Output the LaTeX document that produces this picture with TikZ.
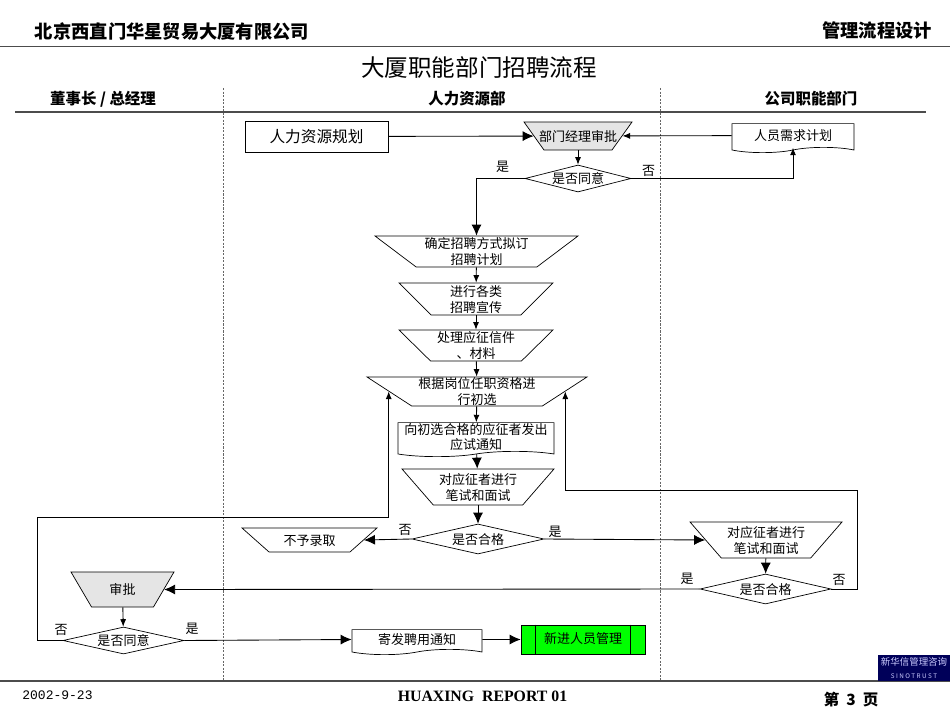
\documentclass[tikz,border=0pt]{standalone}
\usepackage{fontspec}
\setmainfont{Liberation Serif}
\setmonofont{Liberation Mono}
\newfontfamily\cjk{Noto Sans CJK SC}
\usetikzlibrary{arrows.meta,shapes.geometric,shapes.symbols}
\newcommand{\lbl}[1]{\smash{\makebox[0pt]{\raisebox{-2.9pt}{\begin{tabular}[c]{@{}c@{}}#1\end{tabular}}}}}
\tikzset{
	boxtext/.style={font=\cjk\fontsize{7.4}{9}\selectfont, align=center, inner sep=0pt},
	trapbox/.style n args={3}{boxtext, align=none, draw, trapezium, trapezium stretches body, shape border rotate=180, trapezium angle=#1, minimum width=#2, inner ysep=#3},
	docbox/.style={boxtext, draw, tape, tape bend top=none, tape bend height=3pt},
	decide/.style={boxtext, align=none, draw, diamond},
	tag/.style={boxtext},
	flow/.style={-{Latex[length=1.5mm,width=1.2mm]}, line width=0.5pt},
	bigflow/.style={-{Latex[length=2.2mm,width=2mm]}, line width=0.5pt},
	laneline/.style={dash pattern=on 1.2pt off 0.8pt, gray!80!black, line width=0.35pt},
	rule/.style={gray!60!black, line width=0.9pt},
	headtext/.style={font=\cjk\bfseries\fontsize{8.8}{10}\selectfont, inner sep=0pt}
}
\begin{document}
\begin{tikzpicture}[x=0.02cm,y=-0.02cm]
	\useasboundingbox (0,0) rectangle (950,713);

	% Page head
	\node[font=\cjk\bfseries\fontsize{10.4}{12}\selectfont, inner sep=0pt] (company) at (172,32) {北京西直门华星贸易大厦有限公司};
	\node[font=\cjk\bfseries\fontsize{10.4}{12}\selectfont, inner sep=0pt] (design) at (877,31) {管理流程设计};
	\coordinate (topl) at (0,46.5);
	\coordinate (topr) at (950,46.5);
	\draw[rule] (topl) -- (topr);
	\node[font=\cjk\fontsize{13.4}{15}\selectfont, inner sep=0pt] (title) at (479,68) {大厦职能部门招聘流程};

	% Lanes
	\node[headtext] (lanea) at (103,99) {董事长 / 总经理};
	\node[headtext] (laneb) at (467,99) {人力资源部};
	\node[headtext] (lanec) at (811,99) {公司职能部门};
	\coordinate (headl) at (15,112);
	\coordinate (headr) at (926,112);
	\draw[rule] (headl) -- (headr);
	\coordinate (splitat) at (223.5,88);
	\coordinate (splitab) at (223.5,681);
	\coordinate (splitbt) at (660,88);
	\coordinate (splitbb) at (660,681);
	\draw[laneline] (splitat) -- (splitab);
	\draw[laneline] (splitbt) -- (splitbb);

	% Approval at the top
	\node[boxtext, draw, minimum width=2.86cm, minimum height=0.62cm, font=\cjk\fontsize{8.9}{10}\selectfont] (plan) at (316.5,136.5) {人力资源规划};
	\node[trapbox={54.5}{2.16cm}{0.28cm}, fill=gray!20] (mgr) at (578,136) {\lbl{部门经理审批}};
	\node[docbox, minimum width=2.44cm, minimum height=0.58cm] (need) at (793,135.5) {\raisebox{1pt}{人员需求计划}};
	\node[decide, minimum width=2.12cm, minimum height=0.54cm] (agree) at (578,178.5) {\lbl{是否同意}};
	\draw[bigflow] (plan) -- (mgr);
	\draw[flow] (need) -- (mgr);
	\draw[flow] (mgr) -- (agree);

	% Recruiting steps
	\node[trapbox={37}{4.06cm}{0.31cm}] (method) at (476.5,251.5) {\lbl{确定招聘方式拟订\\招聘计划}};
	\node[trapbox={45}{3.08cm}{0.32cm}] (promo) at (476,299) {\lbl{进行各类\\招聘宣传}};
	\node[trapbox={44.5}{3.08cm}{0.31cm}] (mail) at (476,345.5) {\lbl{处理应征信件\\、材料}};
	\node[trapbox={33}{4.4cm}{0.29cm}] (screen) at (477,391.5) {\lbl{根据岗位任职资格进\\行初选}};
	\node[docbox, minimum width=3.12cm, minimum height=0.68cm] (notice) at (476,437) {向初选合格的应征者发出\\应试通知};
	\node[trapbox={49}{3.04cm}{0.36cm}] (exam) at (478,487) {\lbl{对应征者进行\\笔试和面试}};
	\node[decide, minimum width=2.64cm, minimum height=0.6cm] (pass) at (478,539) {\lbl{是否合格}};
	\draw[bigflow] (agree.west) -| (method.north);
	\draw[flow] (method) -- (promo);
	\draw[flow] (promo) -- (mail);
	\draw[flow] (mail) -- (screen);
	\draw[flow] (screen) -- (notice);
	\draw[bigflow] (notice) -- (exam);
	\draw[bigflow] (exam) -- (pass);
	\draw[flow] (agree.east) -| (need.south);

	% Results of the test
	\node[trapbox={41.6}{2.7cm}{0.24cm}] (reject) at (309.5,540) {\lbl{不予录取}};
	\node[trapbox={49}{3.04cm}{0.36cm}] (examb) at (766,540) {\lbl{对应征者进行\\笔试和面试}};
	\node[decide, minimum width=2.62cm, minimum height=0.6cm] (passb) at (765.5,589) {\lbl{是否合格}};
	\draw[bigflow] (pass.west) -- (reject.east);
	\draw[bigflow] (pass.east) -- (examb.west);
	\draw[bigflow] (examb) -- (passb);

	% Final approval
	\node[trapbox={59.6}{2.06cm}{0.35cm}, fill=gray!20] (appr) at (122.5,589.5) {\lbl{审批}};
	\node[decide, minimum width=2.42cm, minimum height=0.54cm] (agreeb) at (123.5,640.5) {\lbl{是否同意}};
	\node[docbox, minimum width=2.6cm, minimum height=0.5cm] (letter) at (417,639.5) {寄发聘用通知};
	\node[boxtext, draw, fill=green, minimum width=2.48cm, minimum height=0.58cm] (newhire) at (583,639.5) {\raisebox{1.5pt}{新进人员管理}};
	\draw ([xshift=0.3cm]newhire.north west) -- ([xshift=0.3cm]newhire.south west);
	\draw ([xshift=-0.3cm]newhire.north east) -- ([xshift=-0.3cm]newhire.south east);
	\draw[bigflow] (passb.west) -- (appr.east);
	\draw[flow] (appr) -- (agreeb);
	\draw[bigflow] (agreeb.east) -- (letter.west);
	\draw[bigflow] (letter) -- (newhire);

	% Loops back to the screening
	\coordinate (loopa) at (37,517);
	\coordinate (loopb) at (857,490);
	\draw[flow] (agreeb.west) -| (loopa) -| (screen.west);
	\draw[flow] (passb.east) -| (loopb) -| (screen.east);

	% Yes and no
	\node[tag] (yesa) at (502.5,167) {是};
	\node[tag] (noa) at (648.5,170.5) {否};
	\node[tag] (nob) at (405,530) {否};
	\node[tag] (yesb) at (555,532) {是};
	\node[tag] (yesc) at (687,579) {是};
	\node[tag] (noc) at (839,579.5) {否};
	\node[tag] (nod) at (61,630) {否};
	\node[tag] (yesd) at (192,629) {是};

	% Page foot
	\coordinate (footl) at (0,681);
	\coordinate (footr) at (950,681);
	\draw[rule] (footl) -- (footr);
	\node[font=\ttfamily\fontsize{7.4}{9}\selectfont, inner sep=0pt] (date) at (57.5,695) {2002-9-23};
	\node[font=\bfseries\fontsize{9}{11}\selectfont, inner sep=0pt] (report) at (482.5,696) {HUAXING\ \ REPORT 01};
	\node[font=\cjk\bfseries\fontsize{8.8}{10}\selectfont, inner sep=0pt] (page) at (851,699.5) {第\ \ 3\ \ 页};
	\node[fill=blue!35!black, text=white!80!blue, align=center, inner sep=0pt, minimum width=1.44cm, minimum height=0.52cm, font=\cjk\fontsize{5.4}{7}\selectfont] (logo) at (914,668) {新华信管理咨询\\{\fontsize{3.6}{5}\selectfont S I N O T R U S T}};
\end{tikzpicture}
\end{document}
